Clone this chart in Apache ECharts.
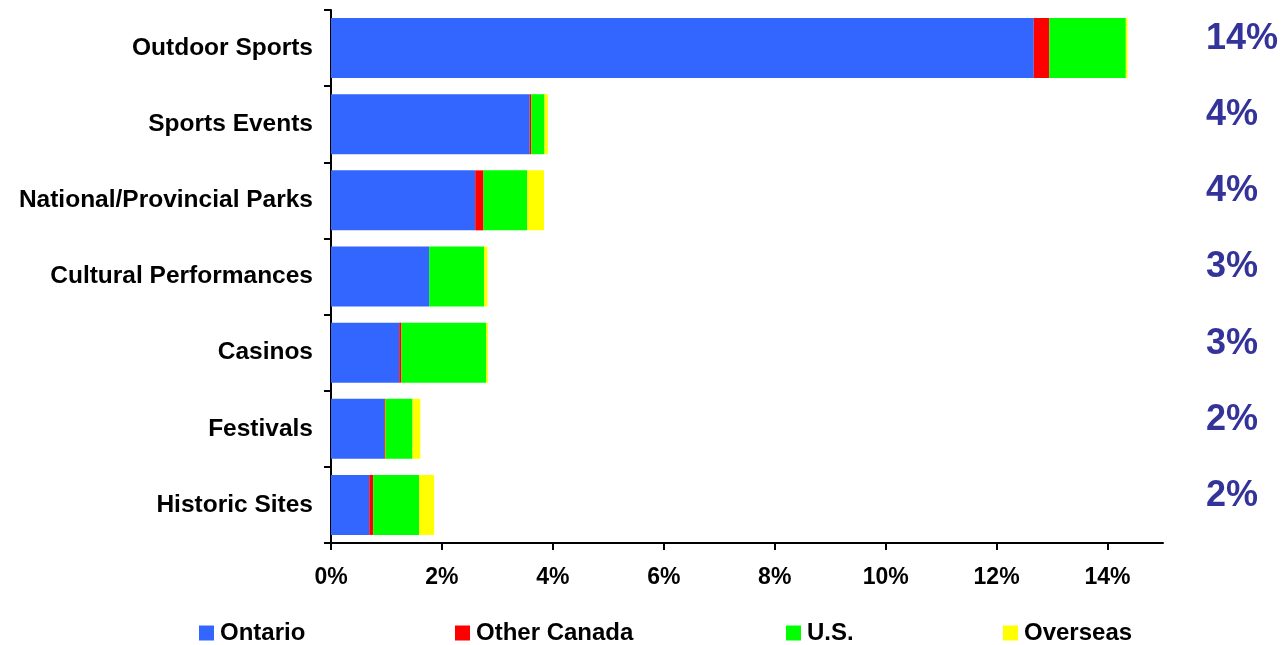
<!DOCTYPE html>
<html>
<head>
<meta charset="utf-8">
<script src="https://cdn.jsdelivr.net/npm/echarts@6/dist/echarts.min.js"></script>
<style>
  html, body { margin: 0; padding: 0; background: #fff; }
  #chart { width: 1282px; height: 645px; }
</style>
</head>
<body>
<div id="chart"></div>
<script>
// Share of trips by activity, split by traveller origin (percent)
const categories = ['Outdoor Sports', 'Sports Events', 'National/Provincial Parks',
  'Cultural Performances', 'Casinos', 'Festivals', 'Historic Sites'];
const ontario     = [12.67, 3.58, 2.60, 1.77, 1.23, 0.96, 0.69];
const otherCanada = [0.28, 0.03, 0.15, 0.00, 0.04, 0.02, 0.07];
const us          = [1.38, 0.24, 0.79, 0.99, 1.53, 0.49, 0.83];
const overseas    = [0.03, 0.06, 0.30, 0.06, 0.03, 0.14, 0.27];
const xTicks = [0, 2, 4, 6, 8, 10, 12, 14];

const seriesNames = ['Ontario', 'Other Canada', 'U.S.', 'Overseas'];
const seriesData = [ontario, otherCanada, us, overseas];
const colors = ['#3366FF', '#FF0000', '#00FF00', '#FFFF00'];

// Total per activity, shown rounded at the right
const totals = categories.map((_, i) =>
  Math.round(seriesData.reduce((s, arr) => s + arr[i], 0)) + '%');

const FONT = '"Liberation Sans", Arial, sans-serif';

const legendLeft = [199, 455, 786, 1003];
const legends = seriesNames.map((name, i) => ({
  data: [name],
  left: legendLeft[i],
  top: 621,
  padding: 0,
  icon: 'rect',
  itemWidth: 15,
  itemHeight: 15,
  selectedMode: false,
  textStyle: { fontFamily: FONT, fontWeight: 'bold', fontSize: 24, color: '#000', padding: [0, 0, 0, 1] }
}));

const chart = echarts.init(document.getElementById('chart'), null, { renderer: 'canvas' });
chart.setOption({
  animation: false,
  color: colors,
  legend: legends,
  grid: { left: 331, right: 119, top: 10, bottom: 102, containLabel: false },
  xAxis: {
    type: 'value',
    min: 0,
    max: 15,
    interval: 1,
    splitLine: { show: false },
    axisLine: { show: true, lineStyle: { color: '#000', width: 2 } },
    axisTick: { show: true, length: 7, customValues: xTicks, lineStyle: { color: '#000', width: 2 } },
    axisLabel: {
      customValues: xTicks,
      formatter: v => v + '%',
      margin: 23,
      fontFamily: FONT, fontWeight: 'bold', fontSize: 23, color: '#000'
    }
  },
  yAxis: [
    {
      type: 'category',
      data: categories,
      inverse: true,
      axisLine: { show: true, lineStyle: { color: '#000', width: 2 } },
      axisTick: { show: true, length: 7, lineStyle: { color: '#000', width: 2 } },
      axisLabel: { margin: 18, fontFamily: FONT, fontWeight: 'bold', fontSize: 24.5, color: '#000' }
    },
    {
      type: 'category',
      data: totals,
      inverse: true,
      position: 'right',
      axisLine: { show: false },
      axisTick: { show: false },
      axisLabel: {
        margin: 43,
        verticalAlign: 'bottom',
        lineHeight: 18,
        fontFamily: FONT, fontWeight: 'bold', fontSize: 36, color: '#333399'
      }
    }
  ],
  series: seriesData.map((arr, i) => ({
    name: seriesNames[i],
    type: 'bar',
    stack: 'total',
    yAxisIndex: 0,
    barWidth: 60,
    data: arr,
    itemStyle: { color: colors[i] }
  }))
});
</script>
</body>
</html>
